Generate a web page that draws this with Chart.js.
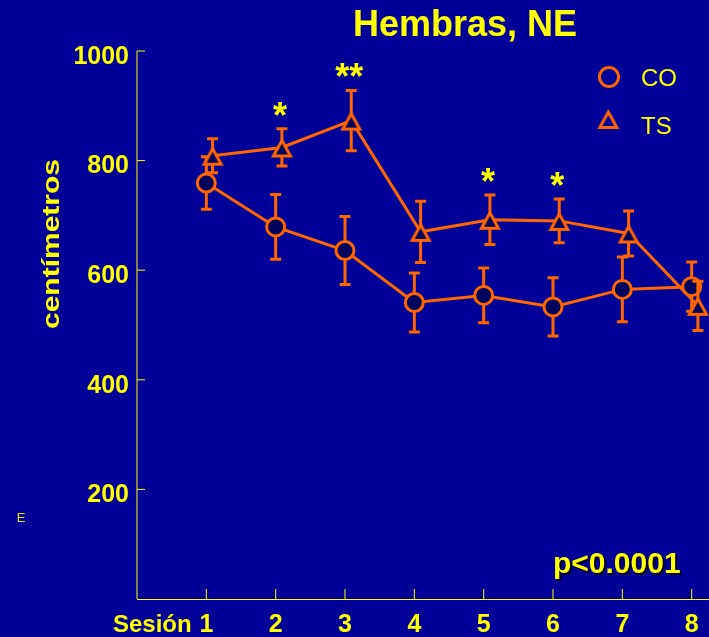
<!DOCTYPE html>
<html>
<head>
<meta charset="utf-8">
<script src="https://cdn.jsdelivr.net/npm/chart.js@4.4.1/dist/chart.umd.min.js"></script>
<style>
  html, body { margin: 0; padding: 0; background: #000099; }
  #wrap { width: 709px; height: 637px; position: relative; }
</style>
</head>
<body>
<div id="wrap"><canvas id="chart"></canvas></div>
<script>
// Sessions and mean distance (cm) with SEM for each group
const sessions = [1, 2, 3, 4, 5, 6, 7, 8];
const coMean = [759, 679, 636, 541, 554, 533, 565, 570];
const coSem = [48, 59, 62, 54, 50, 53, 59, 45];
const tsMean = [809, 824, 873, 670, 692, 690, 667, 535];
const tsSem = [31, 34, 55, 56, 45, 40, 41, 45];
const significance = ['', '*', '**', '', '*', '*', '', ''];
const yTicks = [200, 400, 600, 800, 1000];
const seriesLabels = ['CO', 'TS'];

const BG = '#000099';
const FILL = '#00005e';
const ORANGE = '#ff6600';
const YELLOW = '#ffff00';
const FONT = '"Liberation Sans", Arial, Helvetica, sans-serif';
const TS_SHIFT = 0.09; // TS markers sit slightly right of each session tick

function makeTriangle(fill) {
  const c = document.createElement('canvas');
  c.width = 28; c.height = 28;
  const g = c.getContext('2d');
  const cx = 14, cy = 14.75, w = 17, h = 15.5;
  g.beginPath();
  g.moveTo(cx, cy - h / 2);
  g.lineTo(cx + w / 2, cy + h / 2);
  g.lineTo(cx - w / 2, cy + h / 2);
  g.closePath();
  if (fill) { g.fillStyle = fill; g.fill(); }
  g.strokeStyle = ORANGE;
  g.lineWidth = 3;
  g.lineJoin = 'miter';
  g.stroke();
  return c;
}
const triFilled = makeTriangle(FILL);
const triOpen = makeTriangle(null);

const background = {
  id: 'background',
  beforeDraw(chart) {
    const ctx = chart.ctx;
    ctx.save();
    ctx.fillStyle = BG;
    ctx.fillRect(0, 0, chart.width, chart.height);
    ctx.restore();
  }
};

const axesLines = {
  id: 'axesLines',
  beforeDatasetsDraw(chart) {
    const { ctx, chartArea: a, scales: { x, y } } = chart;
    ctx.save();
    ctx.strokeStyle = YELLOW;
    ctx.lineWidth = 1;
    ctx.beginPath();
    ctx.moveTo(a.left, a.top);
    ctx.lineTo(a.left, a.bottom);
    ctx.stroke();
    ctx.beginPath();
    ctx.moveTo(a.left, a.bottom + 0.5);
    ctx.lineTo(chart.width, a.bottom + 0.5);
    ctx.stroke();
    yTicks.forEach(v => {
      const py = y.getPixelForValue(v);
      ctx.beginPath();
      ctx.moveTo(a.left, py);
      ctx.lineTo(a.left + 8, py);
      ctx.stroke();
    });
    sessions.forEach(s => {
      const px = x.getPixelForValue(s);
      ctx.beginPath();
      ctx.moveTo(px, a.bottom);
      ctx.lineTo(px, a.bottom - 10);
      ctx.stroke();
    });
    ctx.restore();
  }
};

const errorBars = {
  id: 'errorBars',
  beforeDatasetDraw(chart, args) {
    const ds = chart.data.datasets[args.index];
    const meta = args.meta;
    const y = chart.scales.y;
    const ctx = chart.ctx;
    ctx.save();
    ctx.strokeStyle = ORANGE;
    ctx.lineWidth = 3;
    ds.data.forEach((p, i) => {
      const px = meta.data[i].x;
      const top = y.getPixelForValue(p.y + ds.sem[i]);
      const bot = y.getPixelForValue(p.y - ds.sem[i]);
      ctx.beginPath();
      ctx.moveTo(px, top); ctx.lineTo(px, bot);
      ctx.moveTo(px - 5.5, top); ctx.lineTo(px + 5.5, top);
      ctx.moveTo(px - 5.5, bot); ctx.lineTo(px + 5.5, bot);
      ctx.stroke();
    });
    ctx.restore();
  }
};

const annotations = {
  id: 'annotations',
  afterDraw(chart) {
    const { ctx, scales: { x, y } } = chart;
    ctx.save();
    ctx.fillStyle = YELLOW;

    // title
    ctx.font = 'bold 36px ' + FONT;
    ctx.textAlign = 'center';
    ctx.textBaseline = 'alphabetic';
    ctx.fillText('Hembras, NE', 465, 36);

    // y-axis title
    ctx.save();
    ctx.translate(58.5, 244);
    ctx.rotate(-Math.PI / 2);
    ctx.scale(1, 0.78);
    ctx.font = 'bold 30px ' + FONT;
    ctx.textAlign = 'center';
    ctx.fillText('centímetros', 0, 0);
    ctx.restore();

    // x-axis caption
    ctx.font = 'bold 24px ' + FONT;
    ctx.textAlign = 'left';
    ctx.fillText('Sesión', 113, 632);

    // small marker letter
    ctx.font = '13px ' + FONT;
    ctx.textAlign = 'center';
    ctx.fillStyle = '#e6e600';
    ctx.fillText('E', 21, 522);
    ctx.fillStyle = YELLOW;

    // significance stars above TS error bars
    ctx.font = 'bold 36px ' + FONT;
    ctx.textAlign = 'center';
    significance.forEach((s, i) => {
      if (!s) return;
      const px = x.getPixelForValue(sessions[i] + TS_SHIFT) - 2;
      const py = y.getPixelForValue(tsMean[i] + tsSem[i]) - 21;
      ctx.fillText(s, px, py + 20);
    });

    // p value with drop shadow
    ctx.save();
    ctx.font = 'bold 30px ' + FONT;
    ctx.textAlign = 'left';
    ctx.shadowColor = 'rgba(0,0,0,0.85)';
    ctx.shadowOffsetX = 2;
    ctx.shadowOffsetY = 2;
    ctx.shadowBlur = 1;
    ctx.fillText('p<0.0001', 553, 573);
    ctx.restore();

    // legend
    ctx.strokeStyle = ORANGE;
    ctx.lineWidth = 3;
    ctx.beginPath();
    ctx.arc(609, 77, 9.5, 0, Math.PI * 2);
    ctx.stroke();
    ctx.drawImage(triOpen, 608.3 - 14, 119 - 14);
    ctx.font = '24px ' + FONT;
    ctx.textAlign = 'left';
    ctx.fillStyle = YELLOW;
    ctx.fillText(seriesLabels[0], 641, 85.6);
    ctx.fillText(seriesLabels[1], 641, 133.6);

    ctx.restore();
  }
};

new Chart(document.getElementById('chart'), {
  type: 'line',
  data: {
    datasets: [
      {
        label: seriesLabels[0],
        data: sessions.map((s, i) => ({ x: s, y: coMean[i] })),
        sem: coSem,
        borderColor: ORANGE,
        borderWidth: 3,
        tension: 0,
        pointStyle: 'circle',
        pointRadius: 9,
        pointBorderWidth: 3,
        pointBackgroundColor: FILL,
        pointBorderColor: ORANGE,
        order: 1
      },
      {
        label: seriesLabels[1],
        data: sessions.map((s, i) => ({ x: s + TS_SHIFT, y: tsMean[i] })),
        sem: tsSem,
        borderColor: ORANGE,
        borderWidth: 3,
        tension: 0,
        pointStyle: triFilled,
        pointRadius: 10,
        order: 0,
        clip: false
      }
    ]
  },
  options: {
    responsive: true,
    maintainAspectRatio: false,
    animation: false,
    events: [],
    layout: { autoPadding: false, padding: { top: 51, left: 0, right: 0, bottom: 0 } },
    plugins: {
      legend: { display: false },
      tooltip: { enabled: false },
      title: { display: false }
    },
    scales: {
      x: {
        type: 'linear',
        min: 0,
        max: 8.25,
        grid: { display: false, drawTicks: false },
        border: { display: false },
        afterBuildTicks: s => { s.ticks = sessions.map(v => ({ value: v })); },
        afterFit: s => { s.height = 38; s.paddingLeft = 0; s.paddingRight = 0; },
        ticks: {
          color: YELLOW,
          font: { family: FONT, size: 25, weight: 'bold' },
          padding: 11,
          maxRotation: 0,
          autoSkip: false,
          callback: v => String(v)
        }
      },
      y: {
        type: 'linear',
        min: 0,
        max: 1000,
        grid: { display: false, drawTicks: false },
        border: { display: false },
        afterBuildTicks: s => { s.ticks = yTicks.map(v => ({ value: v })); },
        afterFit: s => { s.width = 137; },
        ticks: {
          color: YELLOW,
          font: { family: FONT, size: 25, weight: 'bold' },
          padding: 8,
          labelOffset: 6,
          callback: v => String(v)
        }
      }
    }
  },
  plugins: [background, axesLines, errorBars, annotations]
});
</script>
</body>
</html>
